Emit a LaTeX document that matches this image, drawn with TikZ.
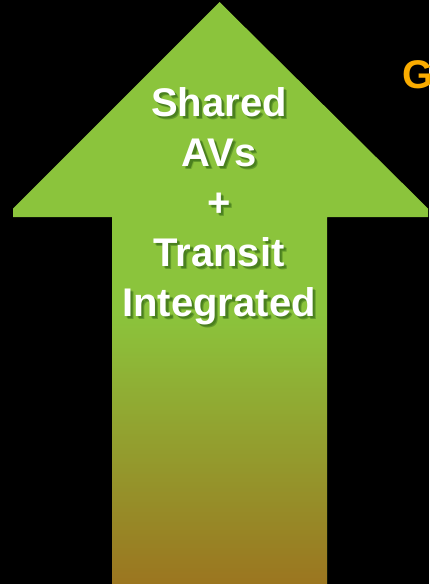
\documentclass[tikz,border=0pt]{standalone}
\usepackage{fontspec}
\setmainfont{Liberation Sans}
\definecolor{arrowgreen}{RGB}{139,196,60}
\definecolor{arrowbrown}{RGB}{155,118,32}
\definecolor{titleorange}{RGB}{250,172,0}
\tikzset{
  labeltext/.style={align=center, font=\bfseries\fontsize{40}{50}\selectfont, inner sep=0pt},
}
\begin{document}
\begin{tikzpicture}[x=1pt, y=-1pt]
  % black canvas
  \fill[black] (0,0) rectangle (429,584);
  \useasboundingbox (0,0) rectangle (429,584);
  \clip (0,0) rectangle (429,584);

  % arrow outline
  \coordinate (tip) at (219.5,2);
  \fill[arrowgreen] (tip) -- (13,208.5) -- (13,217) -- (112,217) -- (112,584)
        -- (327,584) -- (327,217) -- (428,217) -- (428,208.5) -- cycle;
  % lower part of the shaft fades to brown, drawn as thin bands
  \foreach \i in {0,...,134} {
    \pgfmathsetmacro{\t}{100*\i/134}
    \fill[arrowbrown!\t!arrowgreen] (112,314+2*\i) rectangle (327,316.6+2*\i);
  }

  % label with soft drop shadow
  \foreach \dx/\op in {3.5/0.12, 3/0.18, 2.5/0.25} {
    \node[labeltext, text=black!80!green, opacity=\op] at (219+\dx,206+\dx)
      {Shared\\AVs\\+\\Transit\\Integrated};
  }
  \node[labeltext, text=white] (label) at (219,206)
      {Shared\\AVs\\+\\Transit\\Integrated};

  % heading at the right edge
  \node[anchor=base west, inner sep=0pt, text=titleorange,
        font=\bfseries\fontsize{40}{44}\selectfont] (heading) at (402,88) {G};
\end{tikzpicture}
\end{document}
